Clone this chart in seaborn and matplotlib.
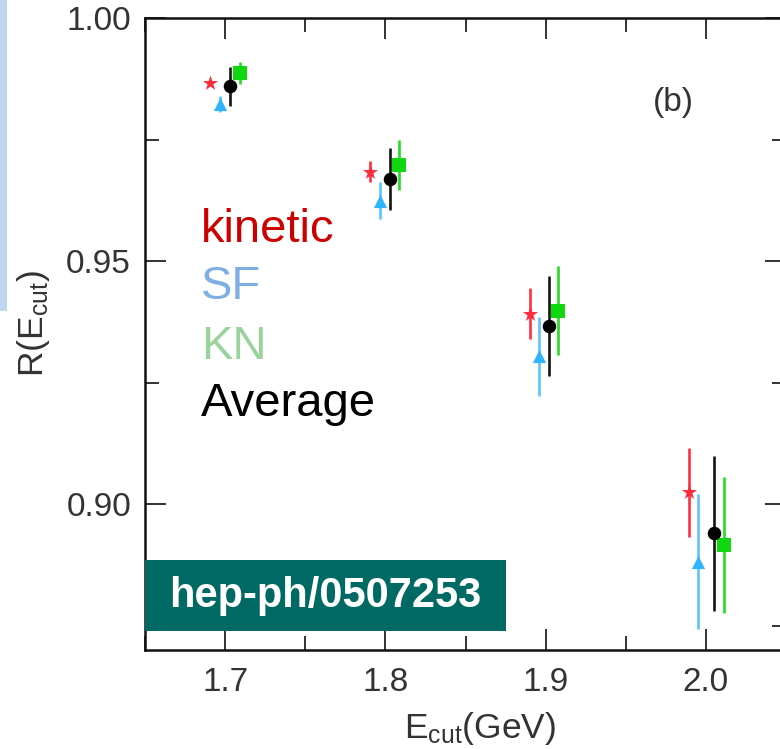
import matplotlib
matplotlib.use("Agg")
import matplotlib.pyplot as plt
from matplotlib.patches import Rectangle
from matplotlib.ticker import MultipleLocator
import numpy as np
import pandas as pd
import seaborn as sns

# Ratio R(E_cut) for the different schemes, one point per cut energy
series_names = ["kinetic", "SF", "KN", "Average"]

kinetic_x = [1.6908, 1.7905, 1.8900, 1.9893]
kinetic_y = [0.9866, 0.9684, 0.9392, 0.9024]
kinetic_err = [0.0000, 0.0022, 0.0052, 0.0092]

sf_x = [1.6970, 1.7965, 1.8958, 1.9951]
sf_y = [0.9823, 0.9624, 0.9304, 0.8882]
sf_err = [0.0016, 0.0038, 0.0081, 0.0138]

kn_x = [1.7090, 1.8086, 1.9079, 2.0115]
kn_y = [0.9887, 0.9698, 0.9398, 0.8916]
kn_err = [0.0022, 0.0052, 0.0092, 0.0140]

avg_x = [1.7031, 1.8028, 1.9022, 2.0052]
avg_y = [0.9860, 0.9669, 0.9366, 0.8940]
avg_err = [0.0040, 0.0063, 0.0103, 0.0160]

x_ticks = [1.7, 1.8, 1.9, 2.0]
x_tick_labels = ["1.7", "1.8", "1.9", "2.0"]
y_ticks = [0.90, 0.95, 1.00]
y_tick_labels = ["0.90", "0.95", "1.00"]

frames = []
for name, xs, ys, es in [
    ("kinetic", kinetic_x, kinetic_y, kinetic_err),
    ("SF", sf_x, sf_y, sf_err),
    ("KN", kn_x, kn_y, kn_err),
    ("Average", avg_x, avg_y, avg_err),
]:
    frames.append(pd.DataFrame({"scheme": name, "E": xs, "R": ys, "err": es}))
df = pd.concat(frames, ignore_index=True)

marker_colors = {"kinetic": "#ff2a3c", "SF": "#30b4ff", "KN": "#10d810", "Average": "#000000"}
bar_colors = {"kinetic": "#ff3040", "SF": "#5cc4ff", "KN": "#22dd22", "Average": "#151515"}
markers = {"kinetic": "*", "SF": "^", "KN": "s", "Average": "o"}
sizes = {"kinetic": 130, "SF": 90, "KN": 95, "Average": 95}
label_colors = {"kinetic": "#cc0000", "SF": "#7eaee2", "KN": "#9ad29c", "Average": "#000000"}

sns.set_theme(style="ticks")
plt.rcParams["font.family"] = ["Liberation Sans", "DejaVu Sans"]
plt.rcParams["mathtext.default"] = "regular"

W, H = 780, 749
fig = plt.figure(figsize=(W / 100, H / 100), dpi=100, facecolor="white")

# left accent strip
fig.patches.append(Rectangle((0, 1 - 311 / H), 7 / W, 311 / H,
                             transform=fig.transFigure, facecolor="#bed7ef",
                             edgecolor="none", zorder=0))

ax = fig.add_axes([145 / W, 1 - 650 / H, (786 - 145) / W, (650 - 18) / H])
ax.set_facecolor("white")

for name in series_names:
    sub = df[df["scheme"] == name]
    ax.vlines(sub["E"], sub["R"] - sub["err"], sub["R"] + sub["err"],
              colors=bar_colors[name], linewidth=1.9, zorder=2)
    sns.scatterplot(data=sub, x="E", y="R", marker=markers[name],
                    color=marker_colors[name], s=sizes[name], linewidth=0,
                    ax=ax, zorder=3, legend=False)

ax.set_xlim(1.65, 2.05)
ax.set_ylim(0.87, 1.0)
ax.set_xticks(x_ticks)
ax.set_xticklabels(x_tick_labels)
ax.set_yticks(y_ticks)
ax.set_yticklabels(y_tick_labels)
ax.xaxis.set_minor_locator(MultipleLocator(0.05))
ax.yaxis.set_minor_locator(MultipleLocator(0.025))

ax.tick_params(which="both", direction="in", top=True, right=True,
               colors="#111111", labelcolor="#333333", width=1.2)
ax.tick_params(which="major", length=15, labelsize=24)
ax.tick_params(axis="x", which="major", pad=12)
ax.tick_params(axis="y", which="major", pad=10)
ax.tick_params(which="minor", length=10)
for sp in ax.spines.values():
    sp.set_linewidth(1.8)
    sp.set_color("#111111")

ax.set_xlabel(r"E$_{cut}$(GeV)", fontsize=25.5, color="#333333")
ax.set_ylabel(r"R(E$_{cut}$)", fontsize=25.5, color="#333333")
ax.xaxis.set_label_coords(0.523, -0.095)
ax.yaxis.set_label_coords(-0.145, 0.516)

fig.text(673 / W, 1 - 103 / H, "(b)", fontsize=24, color="#333333",
         ha="center", va="center")

# legend as coloured words
legend_y = [230, 287, 347, 404]
for name, yy in zip(series_names, legend_y):
    fig.text(201 / W, 1 - yy / H, name, fontsize=34, color=label_colors[name],
             ha="left", va="center")

# identifier box
fig.patches.append(Rectangle((145 / W, 1 - 631 / H), (506 - 145) / W, (631 - 560) / H,
                             transform=fig.transFigure, facecolor="#006963",
                             edgecolor="none", zorder=5))
fig.text((145 + 506) / 2 / W, 1 - 596 / H, "hep-ph/0507253", fontsize=30,
         fontweight="bold", color="white", ha="center", va="center", zorder=6)

fig.savefig("out.png", dpi=100, facecolor="white")
